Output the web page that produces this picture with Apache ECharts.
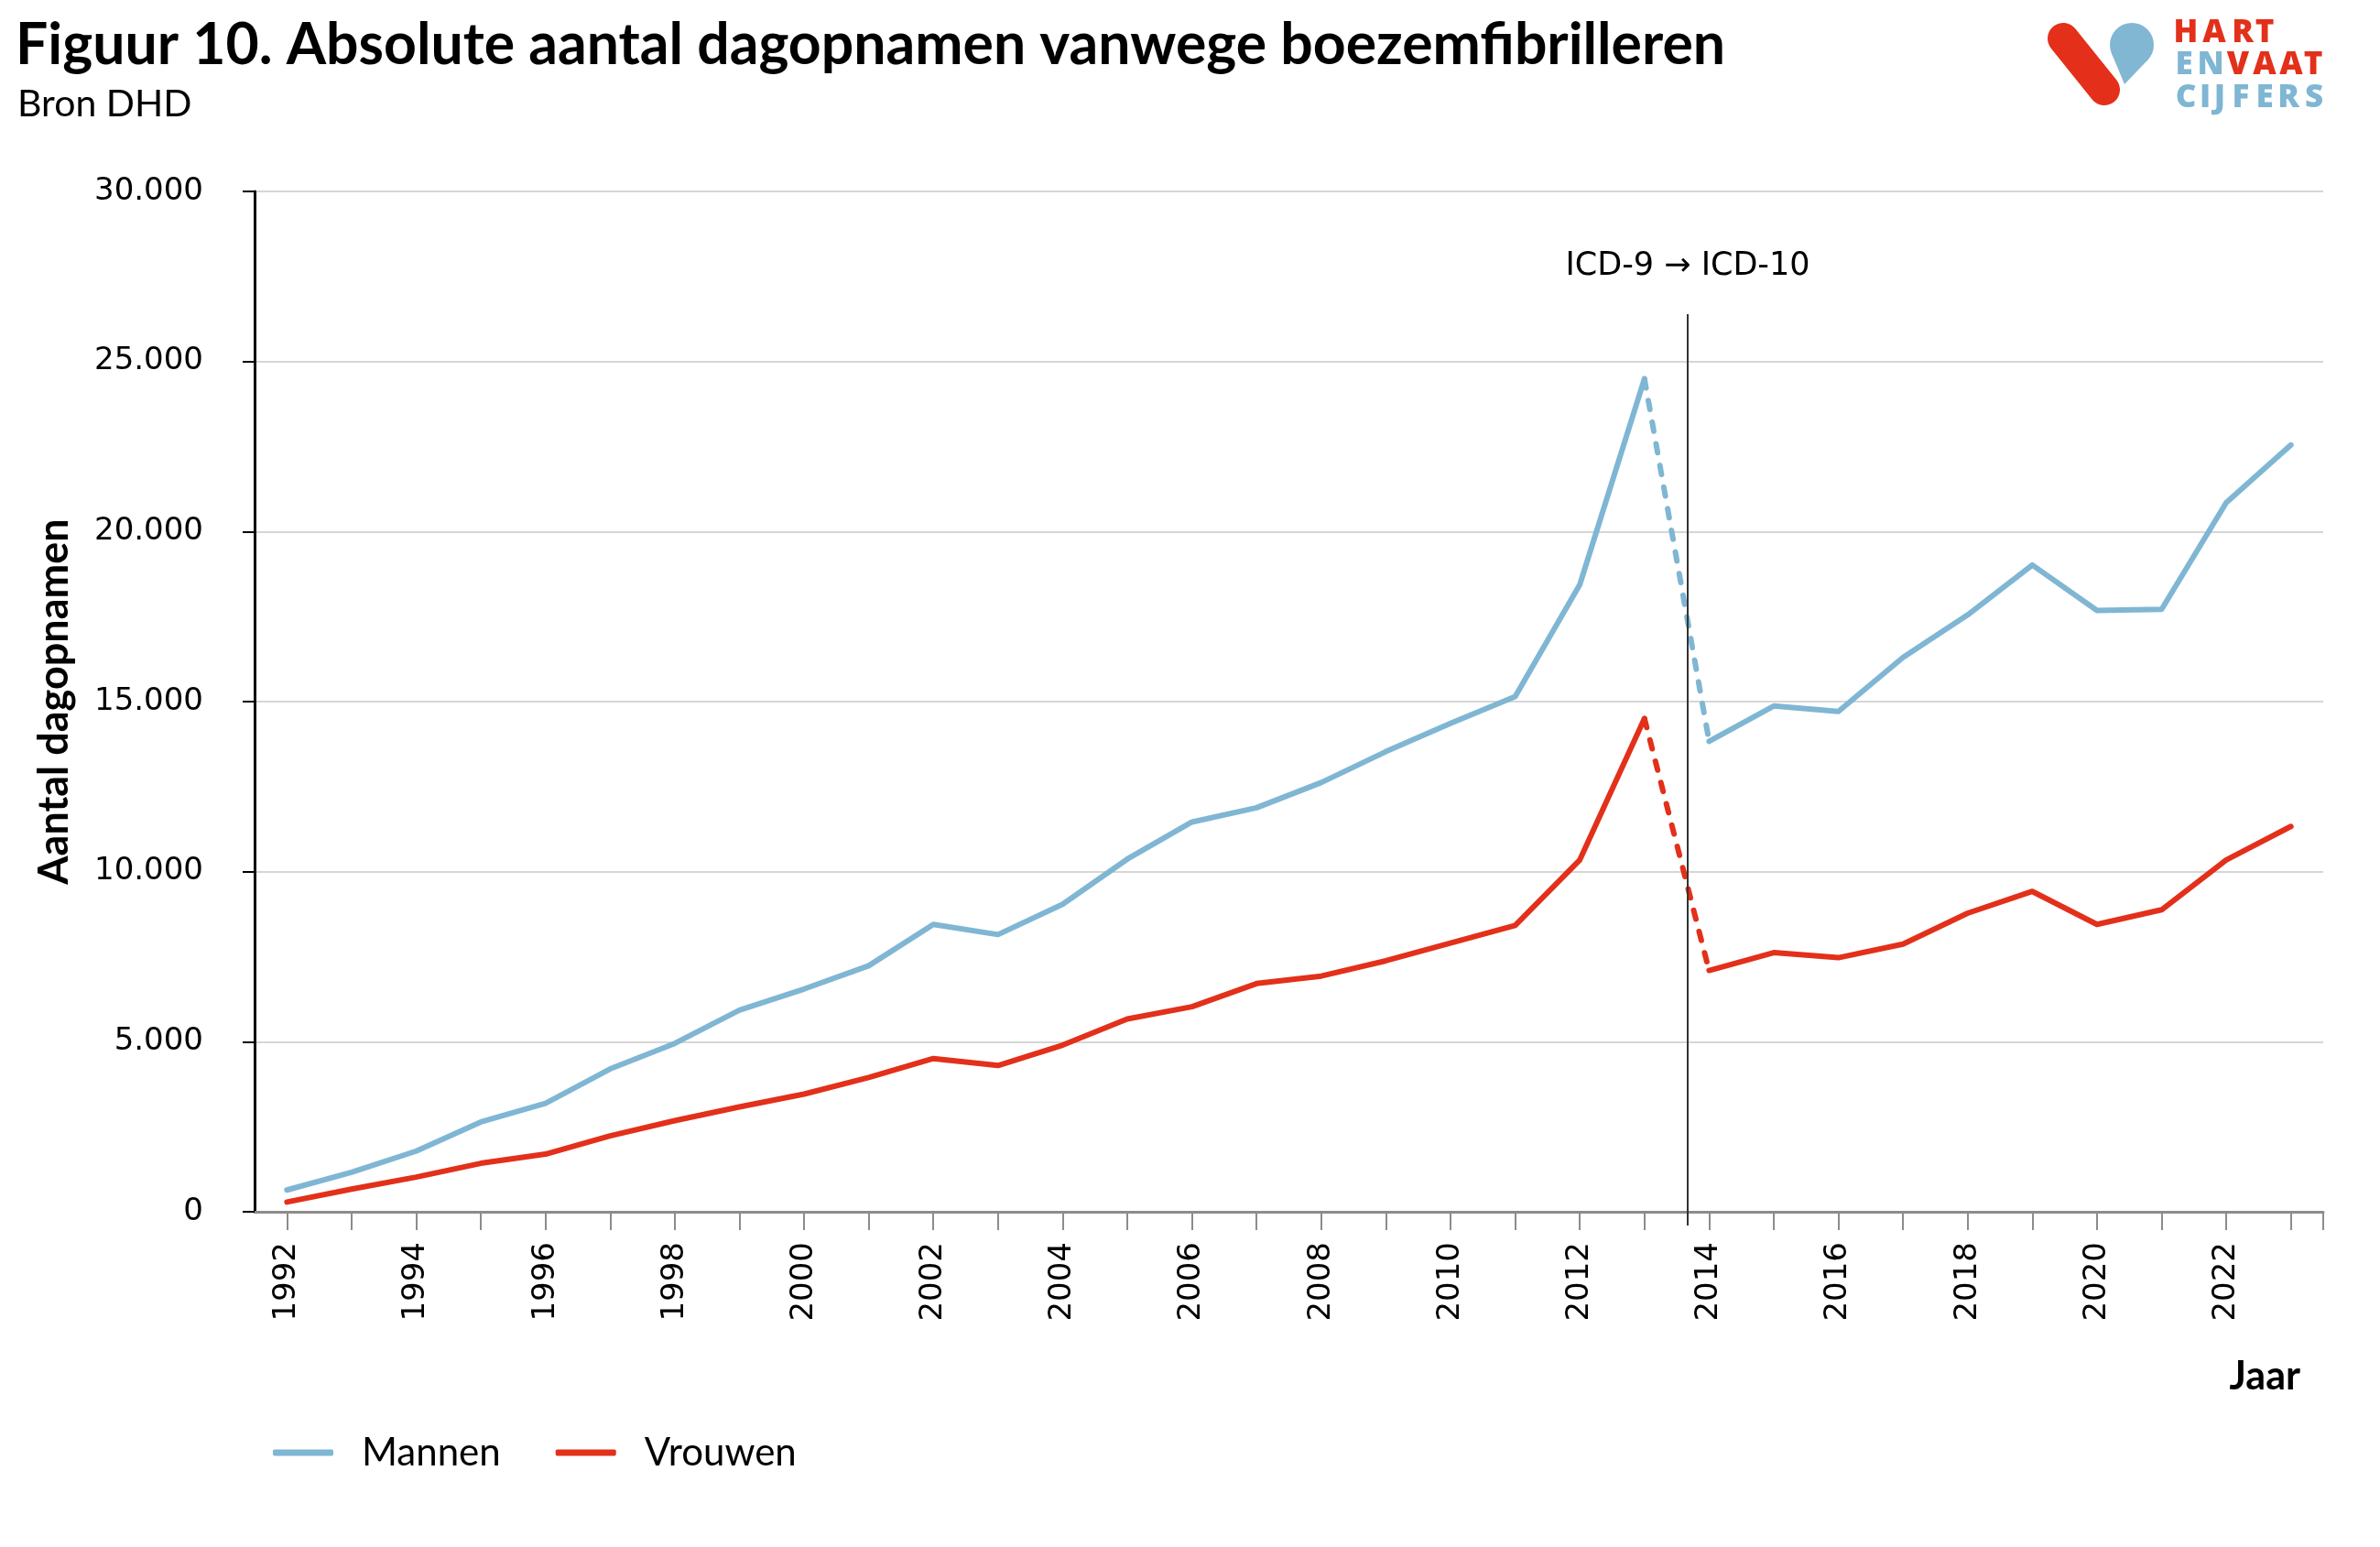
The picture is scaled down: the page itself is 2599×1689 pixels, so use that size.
<!DOCTYPE html>
<html>
<head>
<meta charset="utf-8">
<script src="https://cdn.jsdelivr.net/npm/echarts@6/dist/echarts.min.js"></script>
<style>
html,body{margin:0;padding:0;background:#fff;}
#chart{width:2599px;height:1689px;}
</style>
</head>
<body>
<div id="chart"></div>
<script>
// ---------- DATA ----------
const years = ['1992','1993','1994','1995','1996','1997','1998','1999','2000','2001','2002','2003','2004','2005','2006','2007','2008','2009','2010','2011','2012','2013','2014','2015','2016','2017','2018','2019','2020','2021','2022','2023'];
const mannen = [640,1160,1784,2640,3190,4200,4950,5930,6550,7234,8450,8150,9040,10370,11460,11880,12620,13530,14360,15150,18440,24490,13835,14870,14710,16300,17550,19015,17680,17715,20850,22545];
const vrouwen = [285,665,1020,1425,1695,2233,2680,3085,3460,3950,4505,4300,4900,5670,6030,6710,6930,7380,7900,8420,10345,14500,7095,7620,7470,7870,8780,9420,8450,8880,10345,11330];
const seriesNames = ['Mannen','Vrouwen'];
const yTicks = {min:0, max:30000, interval:5000};
const lastIcd9Year = '2013';
const firstIcd10Year = '2014';
const titleText = 'Figuur 10. Absolute aantal dagopnamen vanwege boezemfibrilleren';
const subtitleText = 'Bron DHD';
const yAxisName = 'Aantal dagopnamen';
const xAxisName = 'Jaar';
const annotationText = 'ICD-9 \u2192 ICD-10';

// ---------- STYLE ----------
const BLUE = '#7FB6D3';
const RED = '#E3301A';
const AXFONT = 'DejaVu Sans';
const TFONT = 'Lato';

const i9 = years.indexOf(lastIcd9Year);
const i10 = years.indexOf(firstIcd10Year);
function split(arr){
  return {
    a: arr.map((v,i)=> i<=i9 ? v : null),
    d: arr.map((v,i)=> (i===i9||i===i10) ? v : null),
    b: arr.map((v,i)=> i>=i10 ? v : null)
  };
}
const m = split(mannen), w = split(vrouwen);
function fmt(v){ return String(v).replace(/\B(?=(\d{3})+(?!\d))/g,'.'); }

function lineSeries(name, data, color, dashed){
  return {
    name: name, type:'line', data:data, symbol:'none', connectNulls:false,
    color: color,
    lineStyle:{color:color, width:6, type: dashed ? [10,14] : 'solid', cap:'round', join:'round'},
    emphasis:{disabled:true}, animation:false
  };
}

const chart = echarts.init(document.getElementById('chart'), null, {renderer:'canvas'});
const option = {
  animation:false,
  backgroundColor:'#fff',
  title:[
    {text:titleText, left:12, top:13, textStyle:{fontFamily:TFONT, fontWeight:'bold', fontSize:62.5, color:'#000'}},
    {text:subtitleText, left:14, top:88, textStyle:{fontFamily:TFONT, fontWeight:'normal', fontSize:41, color:'#000'}}
  ],
  legend:{
    data:seriesNames, left:293, top:1560, icon:'roundRect', itemWidth:66, itemHeight:7, itemGap:60,
    textStyle:{fontFamily:TFONT, fontSize:42, color:'#000', padding:[0,0,0,26]}
  },
  grid:{left:278, right:62, top:209, bottom:366, containLabel:false},
  xAxis:{
    type:'category', data:years, boundaryGap:true,
    axisLine:{show:true, lineStyle:{color:'#8C8C8C', width:3}},
    axisTick:{show:true, alignWithLabel:true, interval:0, length:20, lineStyle:{color:'#8C8C8C', width:2}},
    axisLabel:{interval:1, rotate:90, margin:33, fontFamily:AXFONT, fontSize:34, color:'#000'},
    splitLine:{show:false}
  },
  yAxis:{
    type:'value', min:yTicks.min, max:yTicks.max, interval:yTicks.interval,
    name:yAxisName, nameLocation:'middle', nameGap:196, nameRotate:90,
    nameTextStyle:{fontFamily:TFONT, fontWeight:'bold', fontSize:45, color:'#000'},
    axisLine:{show:true, lineStyle:{color:'#000', width:3}},
    axisTick:{show:true, length:13, lineStyle:{color:'#000', width:2}},
    axisLabel:{margin:56, fontFamily:AXFONT, fontSize:34, color:'#000', formatter:fmt},
    splitLine:{show:true, lineStyle:{color:'#C8C8C8', width:1.5}}
  },
  series:[
    lineSeries(seriesNames[0], m.a, BLUE, false),
    lineSeries(seriesNames[0], m.d, BLUE, true),
    lineSeries(seriesNames[0], m.b, BLUE, false),
    lineSeries(seriesNames[1], w.a, RED, false),
    lineSeries(seriesNames[1], w.d, RED, true),
    lineSeries(seriesNames[1], w.b, RED, false)
  ]
};
chart.setOption(option);

// annotation line between ICD-9 and ICD-10 years
const x9 = chart.convertToPixel({xAxisIndex:0}, lastIcd9Year);
const x10 = chart.convertToPixel({xAxisIndex:0}, firstIcd10Year);
const lx = Math.round((x9 + x10)/2 + 12);
const xEnd = 2599 - 62;

// logo letters (positions only)
const logoRows = [
  {y:36, letters:[['H',2387,RED],['A',2418,RED],['R',2449,RED],['T',2473,RED]]},
  {y:71, letters:[['E',2385,BLUE],['N',2414,BLUE],['V',2444,RED],['A',2473,RED],['A',2502,RED],['T',2526,RED]]},
  {y:107, letters:[['C',2387,BLUE],['I',2408,BLUE],['J',2424,BLUE],['F',2447,BLUE],['E',2473,BLUE],['R',2499,BLUE],['S',2527,BLUE]]}
];
const logoEls = [];
logoRows.forEach(r=> r.letters.forEach(l=>{
  logoEls.push({type:'text', x:l[1], y:r.y, silent:true,
    style:{text:l[0], fill:l[2], font:'800 35px "Open Sans"', textAlign:'center', textVerticalAlign:'middle'}});
}));

chart.setOption({
  graphic:[
    {type:'line', silent:true, z:10, shape:{x1:lx, y1:343, x2:lx, y2:1338}, style:{stroke:'#333', lineWidth:2}},
    {type:'line', silent:true, shape:{x1:xEnd, y1:1323, x2:xEnd, y2:1343}, style:{stroke:'#8C8C8C', lineWidth:2}},
    {type:'text', silent:true, x:lx, y:291, style:{text:annotationText, fill:'#000', font:'35px "DejaVu Sans"', textAlign:'center', textVerticalAlign:'middle'}},
    {type:'text', silent:true, x:2512, y:1503, style:{text:xAxisName, fill:'#000', font:'bold 43px Lato', textAlign:'right', textVerticalAlign:'middle'}},
    // logo marks
    {type:'line', silent:true, shape:{x1:2253, y1:42, x2:2298, y2:98}, style:{stroke:'#E4301A', lineWidth:34, lineCap:'round'}},
    {type:'circle', silent:true, shape:{cx:2328, cy:49, r:24}, style:{fill:'#81B7D3'}},
    {type:'polygon', silent:true, shape:{points:[[2320,92],[2305.9,58.3],[2328,49],[2345.3,65.6]]}, style:{fill:'#81B7D3'}}
  ].concat(logoEls)
});
</script>
</body>
</html>
